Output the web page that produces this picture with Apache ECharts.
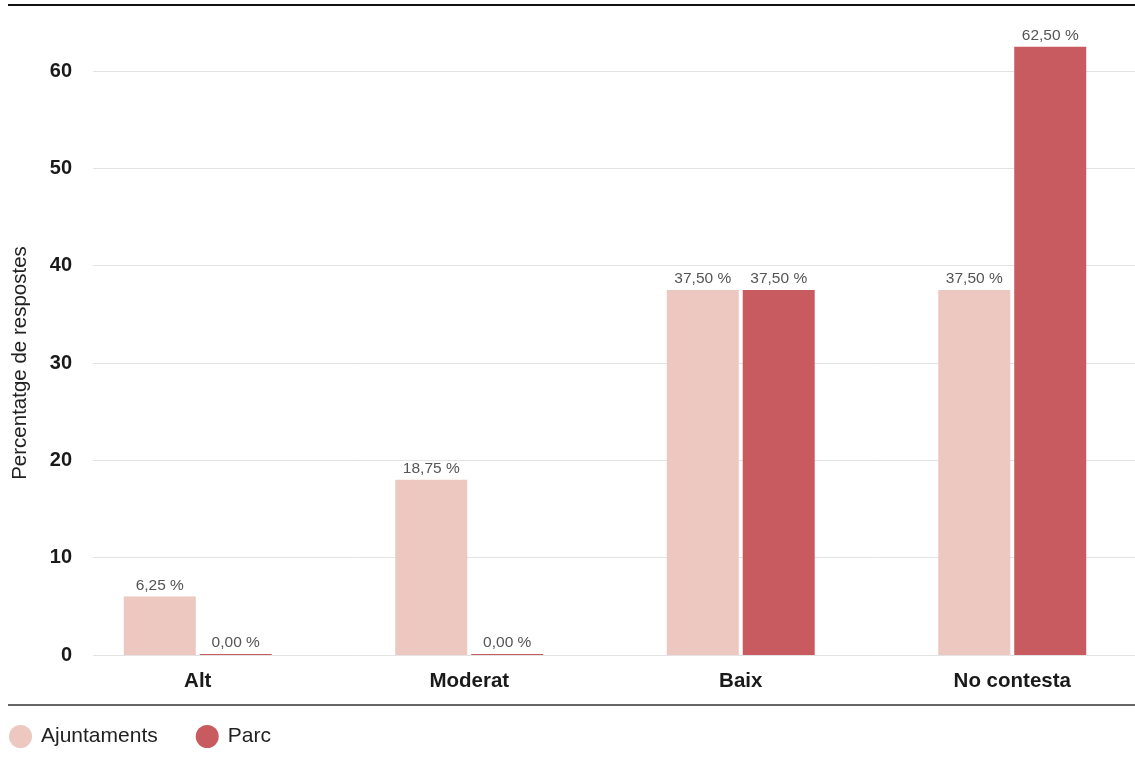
<!DOCTYPE html>
<html>
<head>
<meta charset="utf-8">
<script src="https://cdn.jsdelivr.net/npm/echarts@6/dist/echarts.min.js"></script>
<style>
html,body{margin:0;padding:0;background:#fff;}
#chart{width:1135px;height:762px;}
</style>
</head>
<body>
<div id="chart"></div>
<script>
const categories = ["Alt", "Moderat", "Baix", "No contesta"];
const seriesNames = ["Ajuntaments", "Parc"];
const ajuntamentsValues = [6, 18, 37.5, 37.5];
const parcValues = [0, 0, 37.5, 62.5];
const ajuntamentsLabels = ["6,25 %", "18,75 %", "37,50 %", "37,50 %"];
const parcLabels = ["0,00 %", "0,00 %", "37,50 %", "62,50 %"];
const yTicks = [0, 10, 20, 30, 40, 50, 60];
const yAxisTitle = "Percentatge de respostes";

const FONT = "'Liberation Sans', Arial, Helvetica, sans-serif";
const chart = echarts.init(document.getElementById('chart'), null, {renderer: 'canvas'});

function labelOpt(texts) {
  return {
    show: true, position: 'top', distance: 3,
    color: '#555', fontSize: 15.5, fontFamily: FONT,
    formatter: p => texts[p.dataIndex]
  };
}

chart.setOption({
  animation: false,
  backgroundColor: '#fff',
  color: ['#edc8c0', '#c75b60'],
  textStyle: {fontFamily: FONT},
  grid: [
    {left: 93, right: 0, top: 71, bottom: 107, containLabel: false, outerBoundsMode: 'none'},
    {left: 62, width: 1086, top: 71, bottom: 107, containLabel: false, outerBoundsMode: 'none'}
  ],
  xAxis: [
    {type: 'category', gridIndex: 0, data: categories, show: false},
    {type: 'category', gridIndex: 1, data: categories,
     axisLine: {show: false}, axisTick: {show: false},
     axisLabel: {color: '#1a1a1a', fontSize: 20.5, fontWeight: 'bold', margin: 16, fontFamily: FONT}}
  ],
  yAxis: [
    {type: 'value', gridIndex: 0, min: yTicks[0], max: yTicks[yTicks.length - 1], interval: 10,
     name: yAxisTitle, nameLocation: 'middle', nameGap: 62, nameRotate: 90,
     nameTextStyle: {color: '#222', fontSize: 20.5, fontFamily: FONT},
     axisLine: {show: false}, axisTick: {show: false},
     axisLabel: {color: '#1a1a1a', fontSize: 20, fontWeight: 'bold', margin: 21, fontFamily: FONT},
     splitLine: {show: true, lineStyle: {color: '#e3e3e3', width: 1}}},
    {type: 'value', gridIndex: 1, min: yTicks[0], max: yTicks[yTicks.length - 1], interval: 10, show: false,
     splitLine: {show: false}}
  ],
  legend: {
    left: 4, top: 720, icon: 'circle', itemWidth: 23, itemHeight: 23, itemGap: 38,
    textStyle: {color: '#222', fontSize: 21, fontFamily: FONT, padding: [0, 0, 0, 4]},
    data: seriesNames
  },
  series: [
    {name: seriesNames[0], type: 'bar', xAxisIndex: 1, yAxisIndex: 1, data: ajuntamentsValues,
     barWidth: 72, barGap: '5.5%', clip: false, barMinHeight: 1, label: labelOpt(ajuntamentsLabels)},
    {name: seriesNames[1], type: 'bar', xAxisIndex: 1, yAxisIndex: 1, data: parcValues,
     barWidth: 72, barGap: '5.5%', clip: false, barMinHeight: 1, label: labelOpt(parcLabels)}
  ],
  graphic: [
    {type: 'line', shape: {x1: 8, y1: 5, x2: 1135, y2: 5}, style: {stroke: '#111', lineWidth: 2}},
    {type: 'line', shape: {x1: 8, y1: 705, x2: 1135, y2: 705}, style: {stroke: '#333', lineWidth: 1.5}}
  ]
});
</script>
</body>
</html>
